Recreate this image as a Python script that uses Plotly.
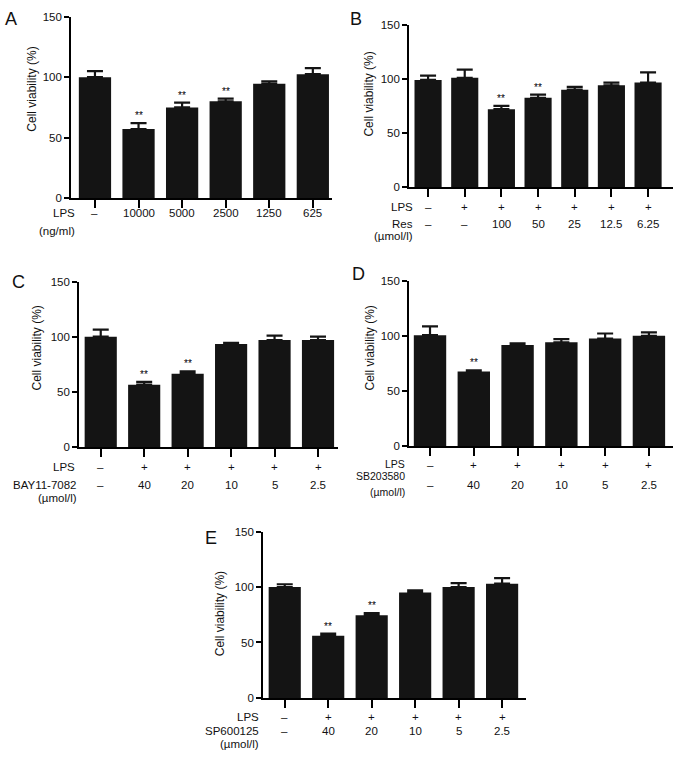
import plotly.graph_objects as go

W, H = 677, 763

# ---------------- data ----------------
a_labels = ["–", "10000", "5000", "2500", "1250", "625"]
a_values = [100, 57, 75, 80, 94.5, 102.5]
a_errors = [5, 5, 4, 2.3, 2, 5]
a_sig = ["", "**", "**", "**", "", ""]

b_lps = ["–", "+", "+", "+", "+", "+", "+"]
b_res = ["–", "–", "100", "50", "25", "12.5", "6.25"]
b_values = [99, 101, 72, 82.5, 90, 94, 96.5]
b_errors = [4, 7.5, 3, 3, 2.5, 2.5, 9.5]
b_sig = ["", "", "**", "**", "", "", ""]

c_lps = ["–", "+", "+", "+", "+", "+"]
c_dose = ["–", "40", "20", "10", "5", "2.5"]
c_values = [100, 56.5, 66.5, 93.5, 97, 97]
c_errors = [6.5, 2.5, 2, 1, 4, 3]
c_sig = ["", "**", "**", "", "", ""]

d_lps = ["–", "+", "+", "+", "+", "+"]
d_dose = ["–", "40", "20", "10", "5", "2.5"]
d_values = [100.5, 67.5, 91.5, 94, 97.5, 100]
d_errors = [8, 1, 1.5, 3, 4.5, 3]
d_sig = ["", "**", "", "", "", ""]

e_lps = ["–", "+", "+", "+", "+", "+"]
e_dose = ["–", "40", "20", "10", "5", "2.5"]
e_values = [100, 56, 74.5, 95, 100, 103]
e_errors = [2.5, 2, 2, 2, 3.5, 5]
e_sig = ["", "**", "**", "", "", ""]

y_ticks = [0, 50, 100, 150]
y_title = "Cell viability (%)"

FONT = "Arial, Liberation Sans, sans-serif"
BAR = "#141414"
TXT = "#111111"


def px(x):
    return x / W


def py(y):
    return 1 - y / H


fig = go.Figure()
annotations = []

# panel geometry in pixels: left, right, top, bottom, x-range
panels = [
    dict(name="A", vals=a_values, errs=a_errors, sig=a_sig,
         box=(71, 332, 11, 195), xr=(-0.55, 5.44)),
    dict(name="B", vals=b_values, errs=b_errors, sig=b_sig,
         box=(409, 673, 19, 184), xr=(-0.52, 6.68)),
    dict(name="C", vals=c_values, errs=c_errors, sig=c_sig,
         box=(79, 338, 280, 448), xr=(-0.5, 5.46)),
    dict(name="D", vals=d_values, errs=d_errors, sig=d_sig,
         box=(409, 673, 279, 447), xr=(-0.48, 5.55)),
    dict(name="E", vals=e_values, errs=e_errors, sig=e_sig,
         box=(263, 526, 534, 703), xr=(-0.5, 5.55)),
]

for i, p in enumerate(panels):
    k = "" if i == 0 else str(i + 1)
    xa, ya = "x" + k, "y" + k
    n = len(p["vals"])
    xs = list(range(n))
    fig.add_trace(go.Bar(
        x=xs, y=p["vals"], xaxis=xa, yaxis=ya, width=0.74,
        marker=dict(color=BAR, line=dict(width=0)),
        error_y=dict(type="data", array=p["errs"], arrayminus=[0] * n,
                     color=BAR, thickness=2.2, width=8),
        showlegend=False, hoverinfo="skip",
    ))
    l, r, t, b = p["box"]
    fig.layout["xaxis" + k] = dict(
        domain=[px(l), px(r)], anchor=ya, range=list(p["xr"]),
        showline=True, linecolor="black", linewidth=1.6,
        ticks="outside", ticklen=8, tickwidth=1.6, tickcolor="black",
        tickvals=xs, showticklabels=False, showgrid=False, zeroline=False,
        fixedrange=True,
    )
    fig.layout["yaxis" + k] = dict(
        domain=[py(b), py(t)], anchor=xa, range=[0, 150],
        showline=True, linecolor="black", linewidth=1.6,
        ticks="outside", ticklen=5, tickwidth=1.6, tickcolor="black",
        tickvals=y_ticks, tickfont=dict(size=11.5, color=TXT, family=FONT),
        showgrid=False, zeroline=False, fixedrange=True,
    )
    # significance stars
    for j, s in enumerate(p["sig"]):
        if s:
            annotations.append(dict(
                x=j, y=p["vals"][j] + p["errs"][j], xref=xa, yref=ya,
                text=s, showarrow=False, xanchor="center", yanchor="bottom",
                yshift=0, font=dict(size=10, color="#000000", family=FONT)))

# y axis titles (pixel centres)
title_pos = [(32, 85), (369, 90), (37, 348), (370, 348), (220, 618)]
for x, y in title_pos:
    annotations.append(dict(x=px(x), y=py(y), xref="paper", yref="paper",
                            text=y_title, textangle=-90, showarrow=False,
                            xanchor="center", yanchor="middle",
                            font=dict(size=12, color=TXT, family=FONT)))

# panel letters
for letter, x, y in [("A", 11, 13), ("B", 356, 13), ("C", 18, 280),
                     ("D", 358, 272), ("E", 211, 541)]:
    annotations.append(dict(x=px(x), y=py(y), xref="paper", yref="paper",
                            text=letter, showarrow=False,
                            xanchor="center", yanchor="middle",
                            font=dict(size=18, color=TXT, family=FONT)))


def row(labels, xref, ypix, size=11.5):
    for j, s in enumerate(labels):
        annotations.append(dict(x=j, y=py(ypix), xref=xref, yref="paper",
                                text=s, showarrow=False, xanchor="center",
                                yanchor="middle",
                                font=dict(size=size, color=TXT, family=FONT)))


def name(text, xright, ypix, size=11.5):
    annotations.append(dict(x=px(xright), y=py(ypix), xref="paper", yref="paper",
                            text=text, showarrow=False, xanchor="right",
                            yanchor="middle",
                            font=dict(size=size, color=TXT, family=FONT)))


# A
row(a_labels, "x", 210)
name("LPS", 77, 210)
name("(ng/ml)", 77, 229)
# B
row(b_lps, "x2", 204)
row(b_res, "x2", 221)
name("LPS", 415, 204)
name("Res", 415, 221)
name("(µmol/l)", 415, 234)
# C
row(c_lps, "x3", 468)
row(c_dose, "x3", 487)
name("LPS", 77, 468)
name("BAY11-7082", 79, 487)
name("(µmol/l)", 79, 500)
# D
row(d_lps, "x4", 466)
row(d_dose, "x4", 487)
name("LPS", 407, 465, 10.5)
name("SB203580", 407, 477.5, 10.5)
name("(µmol/l)", 407, 494, 10.5)
# E
row(e_lps, "x5", 722)
row(e_dose, "x5", 737)
name("LPS", 261, 722)
name("SP600125", 261, 737)
name("(µmol/l)", 261, 750)

fig.update_layout(
    width=W, height=H, margin=dict(l=0, r=0, t=0, b=0),
    paper_bgcolor="white", plot_bgcolor="white",
    font=dict(family=FONT, color=TXT),
    annotations=annotations, bargap=0.25,
)

fig.write_html(
    "out.html",
    config={"displayModeBar": False},
    post_script="document.body.style.margin='0';document.body.style.overflow='hidden';",
)
